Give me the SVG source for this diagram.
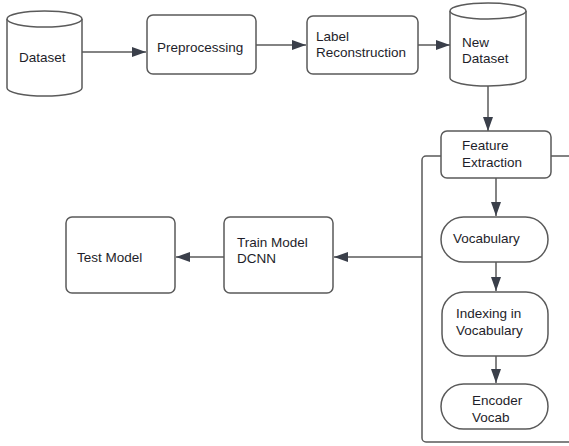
<svg xmlns="http://www.w3.org/2000/svg" width="569" height="446" viewBox="0 0 569 446">
<style>
.n{fill:#fff;stroke:#5a5a5a;stroke-width:1.5}
.c{fill:none;stroke:#5a5a5a;stroke-width:1.5}
text{font-family:"Liberation Sans",Arial,sans-serif;font-size:13.5px;fill:#1e1e2a}
</style>
<defs>
<marker id="a" viewBox="0 0 14 10" refX="14" refY="5" markerWidth="14" markerHeight="10" markerUnits="userSpaceOnUse" orient="auto">
<path d="M0,0 L14,5 L0,10 Z" fill="#3a3f4a"/>
</marker>
</defs>
<rect width="569" height="446" fill="#fff"/>
<g id="connectors">
<rect class="c" x="422" y="156" width="200" height="286" rx="4"/>
<line class="c" x1="82" y1="52" x2="146" y2="52" marker-end="url(#a)"/>
<line class="c" x1="256" y1="45" x2="306" y2="45" marker-end="url(#a)"/>
<line class="c" x1="418" y1="45" x2="450" y2="45" marker-end="url(#a)"/>
<line class="c" x1="488" y1="86" x2="488" y2="131" marker-end="url(#a)"/>
<line class="c" x1="496" y1="178" x2="496" y2="216" marker-end="url(#a)"/>
<line class="c" x1="496" y1="262" x2="496" y2="291" marker-end="url(#a)"/>
<line class="c" x1="496" y1="356" x2="496" y2="383" marker-end="url(#a)"/>
<line class="c" x1="422" y1="257" x2="334" y2="257" marker-end="url(#a)"/>
<line class="c" x1="224" y1="257" x2="176" y2="257" marker-end="url(#a)"/>
</g>
<g id="dataset">
<path class="n" d="M7,19 L7,88 A37.5,8 0 0 0 82,88 L82,19"/>
<ellipse class="n" cx="44.5" cy="19" rx="37.5" ry="8"/>
<text x="19" y="62">Dataset</text>
</g>
<g id="preprocessing">
<rect class="n" x="147" y="15" width="109" height="59" rx="6"/>
<text x="157" y="52">Preprocessing</text>
</g>
<g id="label-reconstruction">
<rect class="n" x="307" y="16" width="111" height="58" rx="6"/>
<text x="316" y="41">Label</text>
<text x="316" y="57">Reconstruction</text>
</g>
<g id="new-dataset">
<path class="n" d="M450,11 L450,78 A38,8 0 0 0 526,78 L526,11"/>
<ellipse class="n" cx="488" cy="11" rx="38" ry="8"/>
<text x="462" y="47">New</text>
<text x="462" y="63">Dataset</text>
</g>
<g id="feature-extraction">
<rect class="n" x="441" y="131" width="110" height="47" rx="6"/>
<text x="462" y="150">Feature</text>
<text x="462" y="167">Extraction</text>
</g>
<g id="vocabulary">
<rect class="n" x="441" y="217" width="107" height="45" rx="22.5"/>
<text x="453" y="243">Vocabulary</text>
</g>
<g id="indexing">
<rect class="n" x="442" y="292" width="106" height="64" rx="22"/>
<text x="456" y="318">Indexing in</text>
<text x="456" y="335">Vocabulary</text>
</g>
<g id="encoder">
<rect class="n" x="441" y="384" width="107" height="45" rx="22.5"/>
<text x="472" y="405">Encoder</text>
<text x="472" y="422">Vocab</text>
</g>
<g id="train-model">
<rect class="n" x="224" y="217" width="109" height="76" rx="6"/>
<text x="237" y="247">Train Model</text>
<text x="237" y="263">DCNN</text>
</g>
<g id="test-model">
<rect class="n" x="66" y="217" width="109" height="76" rx="6"/>
<text x="77" y="262">Test Model</text>
</g>
</svg>
